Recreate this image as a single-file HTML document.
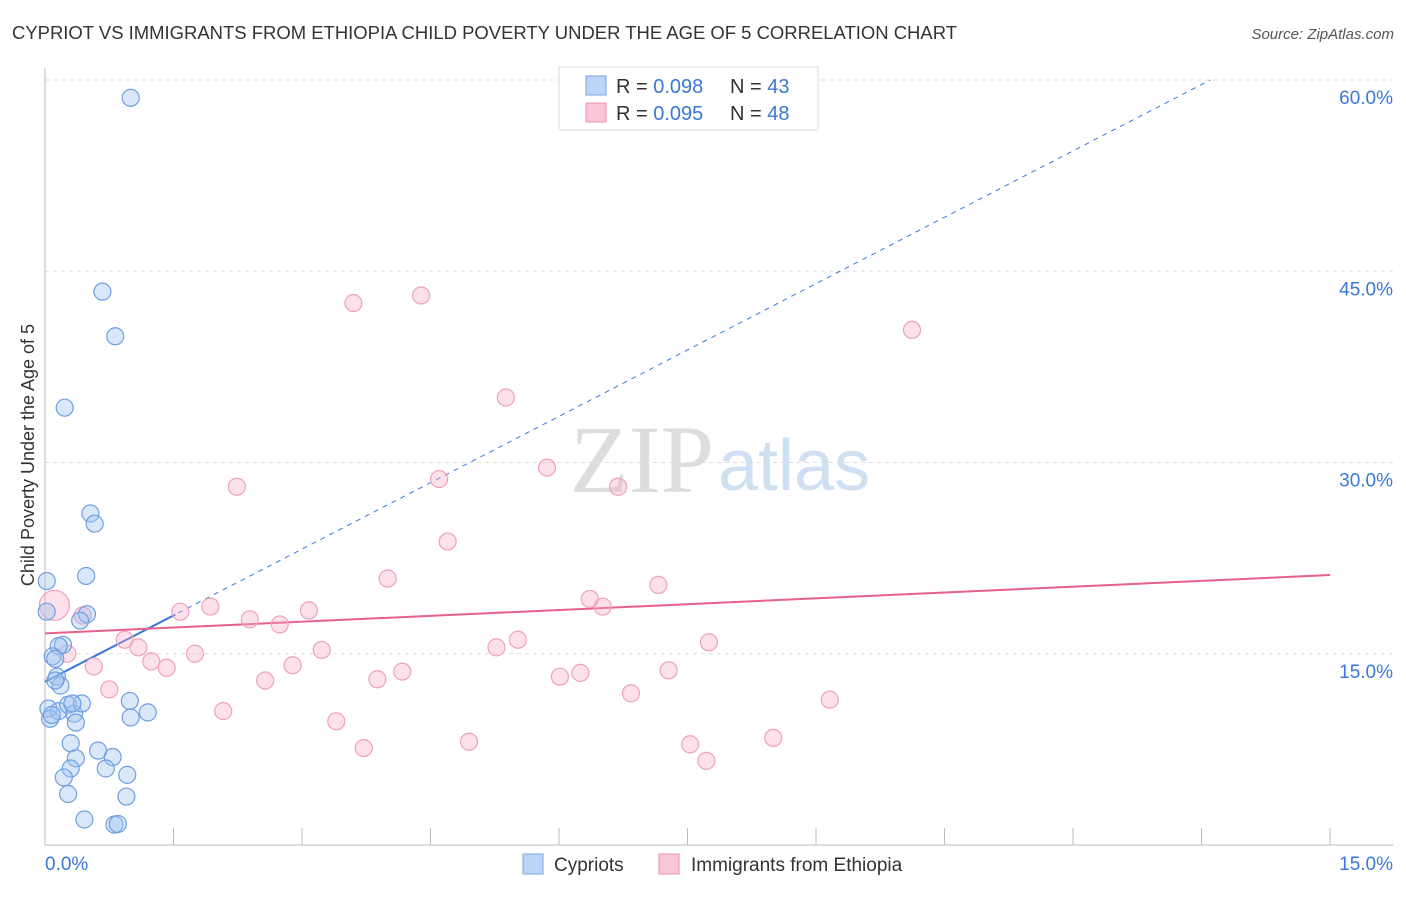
<!DOCTYPE html>
<html><head><meta charset="utf-8"><style>
body{margin:0;background:#fff;font-family:"Liberation Sans",sans-serif}
</style></head><body>
<svg id="chart" width="1406" height="892" xmlns="http://www.w3.org/2000/svg" style="font-family:'Liberation Sans',sans-serif">
<text x="12" y="39" font-size="18" fill="#333" textLength="945" lengthAdjust="spacingAndGlyphs">CYPRIOT VS IMMIGRANTS FROM ETHIOPIA CHILD POVERTY UNDER THE AGE OF 5 CORRELATION CHART</text>
<text x="1394" y="39" font-size="15" fill="#555" font-style="italic" text-anchor="end">Source: ZipAtlas.com</text>
<text x="714" y="492" font-size="96" fill="#ddd" style="font-family:'Liberation Serif',serif" text-anchor="end">ZIP</text>
<text x="718" y="490" font-size="72" fill="#d0e0f3">atlas</text>
<text transform="translate(34,455) rotate(-90)" font-size="18" fill="#333" text-anchor="middle">Child Poverty Under the Age of 5</text>
<g id="grid"></g><g id="axes"></g><g id="marks"></g>
<g>
<rect x="559" y="67" width="259" height="63" fill="#fff" stroke="#ddd"/>
<rect x="586" y="76" width="20" height="19" fill="#bcd4f5" stroke="#7aa6e6"/>
<rect x="586" y="103" width="20" height="19" fill="#f9c6d6" stroke="#ee8fae"/>
<text x="616" y="93" font-size="20" fill="#333">R = <tspan fill="#3a78d8">0.098</tspan></text>
<text x="730" y="93" font-size="20" fill="#333">N = <tspan fill="#3a78d8">43</tspan></text>
<text x="616" y="120" font-size="20" fill="#333">R = <tspan fill="#3a78d8">0.095</tspan></text>
<text x="730" y="120" font-size="20" fill="#333">N = <tspan fill="#3a78d8">48</tspan></text>
</g>
<g>
<rect x="523" y="854" width="20" height="20" fill="#bcd4f5" stroke="#7aa6e6"/>
<text x="554" y="871" font-size="19" fill="#333">Cypriots</text>
<rect x="659" y="854" width="20" height="20" fill="#f9c6d6" stroke="#ee8fae"/>
<text x="691" y="871" font-size="19" fill="#333">Immigrants from Ethiopia</text>
</g>
</svg>
<script>
const yTicks=[15,30,45,60];
const xTickLabels=["0.0%","15.0%"];
const blueX=[1.0,0.67,0.82,0.23,0.53,0.58,0.48,0.02,0.02,0.49,0.41,0.21,0.16,0.09,0.12,0.14,0.18,0.12,0.04,0.06,0.16,0.27,0.34,0.43,0.36,0.99,1.2,1.0,0.3,0.62,0.79,0.36,0.3,0.71,0.96,0.22,0.27,0.95,0.46,0.81,0.85,0.08,0.32];
const blueY=[58.6,43.4,39.9,34.3,26.0,25.2,21.1,20.7,18.3,18.1,17.6,15.7,15.6,14.8,14.6,13.2,12.5,12.9,10.7,9.9,10.5,11.0,10.3,11.1,9.6,11.3,10.4,10.0,7.98,7.4,6.9,6.8,6.0,6.0,5.5,5.3,4.0,3.8,2.0,1.6,1.65,10.2,11.1];
const pinkX=[0.11,3.6,4.39,10.12,5.38,5.86,4.6,6.69,2.24,4.7,4.0,7.16,6.36,6.51,1.93,1.58,3.08,0.44,2.39,2.74,0.93,1.09,5.52,5.27,7.75,3.23,1.75,0.26,1.24,1.42,0.57,2.89,4.17,6.25,7.28,6.01,3.88,2.57,0.75,6.84,9.16,2.08,3.4,4.95,7.53,8.5,3.72,7.72];
const pinkY=[18.8,42.5,43.1,40.4,35.1,29.6,28.7,28.1,28.1,23.8,20.9,20.4,19.3,18.7,18.7,18.3,18.4,18.0,17.7,17.3,16.1,15.5,16.1,15.5,15.9,15.3,15.0,15.0,14.4,13.9,14.0,14.1,13.6,13.5,13.7,13.2,13.0,12.9,12.2,11.9,11.4,10.5,9.7,8.1,7.9,8.4,7.6,6.6];
const blueFit=[12.8,3.47];
const pinkFit=[16.6,0.305];
const sx=v=>45+v*85.67, sy=v=>845-v*12.75;
const NS="http://www.w3.org/2000/svg";
function mk(t,a,p){const e=document.createElementNS(NS,t);for(const k in a)e.setAttribute(k,a[k]);document.getElementById(p).appendChild(e);return e;}
yTicks.forEach(v=>{
 const l=mk('line',{x1:45,x2:1393,y1:sy(v),y2:sy(v),stroke:'#ddd','stroke-dasharray':'4,4'},'grid');
 
 
 const t=mk('text',{x:1393,y:sy(v)+24,'font-size':19,fill:'#3a78d8','text-anchor':'end'},'axes');t.textContent=v.toFixed(1)+'%';
 
 
});
mk('line',{x1:45,x2:45,y1:68,y2:845,stroke:'#bbb'},'axes');
mk('line',{x1:45,x2:1393,y1:845,y2:845,stroke:'#bbb'},'axes');
for(let i=0;i<=10;i++){const t=mk('line',{x1:sx(i*1.5),x2:sx(i*1.5),y1:828,y2:845,stroke:'#bbb'},'axes');
 
 }
[[0,'start',45],[1,'end',1393]].forEach(([i,a,x])=>{const t=mk('text',{x:x,y:870,'font-size':19,fill:'#3a78d8','text-anchor':a},'axes');t.textContent=xTickLabels[i];
 
 });
const bxEnd=(60-blueFit[0])/blueFit[1];
let l=mk('line',{x1:sx(0),y1:sy(blueFit[0]),x2:sx(bxEnd),y2:sy(60),stroke:'#3a78d8','stroke-dasharray':'5,5','stroke-width':1},'marks');


l=mk('line',{x1:sx(0),y1:sy(blueFit[0]),x2:sx(1.52),y2:sy(blueFit[0]+1.52*blueFit[1]),stroke:'#3a78d8','stroke-width':2},'marks');


l=mk('line',{x1:sx(0),y1:sy(pinkFit[0]),x2:sx(15),y2:sy(pinkFit[0]+15*pinkFit[1]),stroke:'#e8608e','stroke-width':2},'marks');


pinkX.forEach((x,i)=>{const c=mk('circle',{cx:sx(x),cy:sy(pinkY[i]),r:i==0?15:8.5,fill:'rgba(246,170,196,0.35)',stroke:'#f0a0bb','stroke-width':1.2},'marks');
 
 });
blueX.forEach((x,i)=>{const c=mk('circle',{cx:sx(x),cy:sy(blueY[i]),r:8.5,fill:'rgba(160,195,240,0.4)',stroke:'#6f9fe0','stroke-width':1.2},'marks');
 
 });
</script>
</body></html>
